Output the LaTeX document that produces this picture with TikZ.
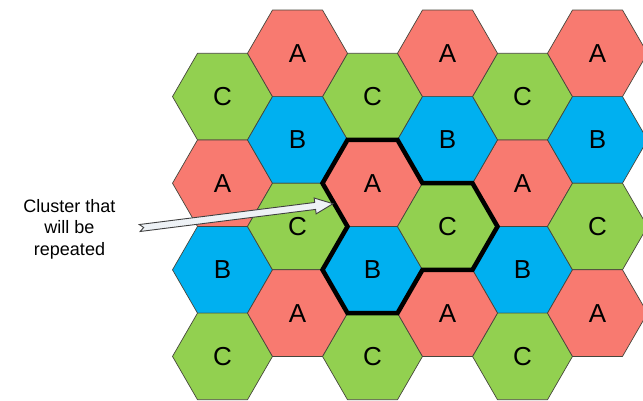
\documentclass[tikz,border=0pt]{standalone}
\usepackage{fontspec}
\setmainfont{Liberation Sans}
\usetikzlibrary{calc}
\definecolor{cA}{RGB}{248,122,112}
\definecolor{cB}{RGB}{0,176,240}
\definecolor{cC}{RGB}{146,208,80}
\definecolor{hexline}{RGB}{70,70,60}
\definecolor{arrowfill}{RGB}{238,242,246}
\newcommand\hexcell[4]{%
  \draw[hexedge, fill=c#4] (#2,#3) +(0:50) -- +(60:50) -- +(120:50) -- +(180:50) -- +(240:50) -- +(300:50) -- cycle;
  \node[hexlabel] (#1) at (#2,#3) {#4};
}
\tikzset{
  hexedge/.style={draw=hexline, line width=0.7pt, line join=round},
  hexlabel/.style={inner sep=0pt, font=\fontsize{26}{26}\selectfont},
  clusterline/.style={draw=black, line width=4.5pt, line join=miter},
  arrowshape/.style={draw=black!75, fill=arrowfill, line width=0.9pt, line join=miter},
  note/.style={align=center, inner sep=0pt, font=\fontsize{18}{21.5}\selectfont}
}
\begin{document}
\begin{tikzpicture}[x=1pt,y=-1pt]
\useasboundingbox (0,0) rectangle (643,400);
% odd columns
\foreach \c/\cx in {1/222.5,3/372.5,5/522.5}{
  \hexcell{h\c0}{\cx}{96.6}{C}
  \hexcell{h\c1}{\cx}{183.2}{A}
  \hexcell{h\c2}{\cx}{269.8}{B}
  \hexcell{h\c3}{\cx}{356.4}{C}
}
% even columns
\foreach \c/\cx in {2/297.5,4/447.5,6/597.5}{
  \hexcell{h\c0}{\cx}{53.3}{A}
  \hexcell{h\c1}{\cx}{139.9}{B}
  \hexcell{h\c2}{\cx}{226.5}{C}
  \hexcell{h\c3}{\cx}{313.1}{A}
}
% cluster outline
\draw[clusterline]
  ($(h31)+(-25,-43.3)$) -- ($(h31)+(25,-43.3)$) -- ($(h31)+(50,0)$)
  -- ($(h42)+(25,-43.3)$) -- ($(h42)+(50,0)$) -- ($(h42)+(25,43.3)$)
  -- ($(h42)+(-25,43.3)$) -- ($(h32)+(25,43.3)$) -- ($(h32)+(-25,43.3)$)
  -- ($(h32)+(-50,0)$) -- ($(h32)+(-25,-43.3)$) -- ($(h31)+(-50,0)$) -- cycle;
% label
\node[note] (lbl) at (69.5,229) {Cluster that\\will be\\repeated};
% arrow
\coordinate (tail) at ($(lbl.east)+(24,-1)$);
\coordinate (tip) at ($(h31)+(-39.5,20.5)$);
\coordinate (hb) at ($(tip)!18pt!(tail)$);
\draw[arrowshape]
  (tip) -- ($(hb)!8pt!90:(tip)$) -- ($(hb)!3.5pt!90:(tip)$)
  -- ($(tail)!3.5pt!90:(tip)$) -- ($(tail)!4pt!(tip)$)
  -- ($(tail)!3.5pt!-90:(tip)$) -- ($(hb)!3.5pt!-90:(tip)$)
  -- ($(hb)!8pt!-90:(tip)$) -- cycle;
\end{tikzpicture}
\end{document}
